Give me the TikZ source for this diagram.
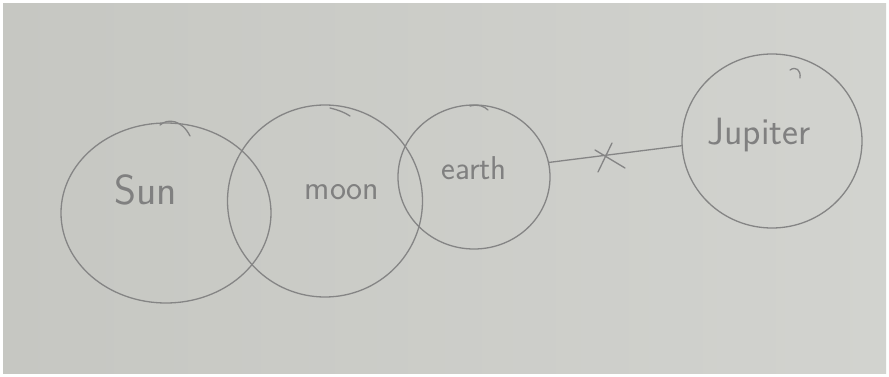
\documentclass[tikz,border=0pt]{standalone}
\usetikzlibrary{shapes.geometric}
\definecolor{pencil}{HTML}{858585}
\definecolor{ink}{HTML}{808080}
\definecolor{paperL}{HTML}{C6C7C2}
\definecolor{paperM}{HTML}{DDDDDA}
\definecolor{paperR}{HTML}{D2D3CF}
\begin{document}
\begin{tikzpicture}[x=1pt,y=-1pt,
  planet/.style={ellipse, draw=pencil, line width=1.3pt, inner sep=0pt},
  hand/.style={text=ink, font=\sffamily, inner sep=0pt},
  stroke/.style={draw=pencil, line width=1.3pt, line cap=round}]
\useasboundingbox (0,0) rectangle (889,377);
\fill[white] (0,0) rectangle (889,377);
\shade[left color=paperL, middle color=paperM, right color=paperR] (3,4) rectangle (886,373);
% planets
\node[planet, minimum width=210pt, minimum height=180pt] (sun) at (166,213) {};
\node[planet, minimum width=195pt, minimum height=192pt] (moon) at (325,201) {};
\node[planet, minimum width=152pt, minimum height=144pt] (earth) at (474,177) {};
\node[planet, minimum width=180pt, minimum height=174pt] (jupiter) at (772,141) {};
% little pencil hooks at the tops
\draw[stroke] (160,125) .. controls (168,118) and (182,120) .. (190,136);
\draw[stroke] (330,108) .. controls (338,110) and (344,112) .. (350,116);
\draw[stroke] (470,106) .. controls (478,104) and (484,106) .. (488,110);
\draw[stroke] (790,70) .. controls (796,66) and (801,70) .. (800,78);
% labels
\node[hand, font=\sffamily\fontsize{42}{42}\selectfont] (lsun) at (146,190) {Sun};
\node[hand, font=\sffamily\fontsize{34}{34}\selectfont] (lmoon) at (342,192) {moon};
\node[hand, font=\sffamily\fontsize{33}{33}\selectfont] (learth) at (474,168) {earth};
\node[hand, font=\sffamily\fontsize{38}{38}\selectfont] (ljup) at (759,135) {Jupiter};
% broken link
\draw[stroke] (earth.11) -- (jupiter.183);
\coordinate (cross) at (607,157);
\draw[stroke] (cross) ++(-12,-7) -- ++(30,18);
\draw[stroke] (cross) ++(5,-14) -- ++(-14,29);
\end{tikzpicture}
\end{document}
